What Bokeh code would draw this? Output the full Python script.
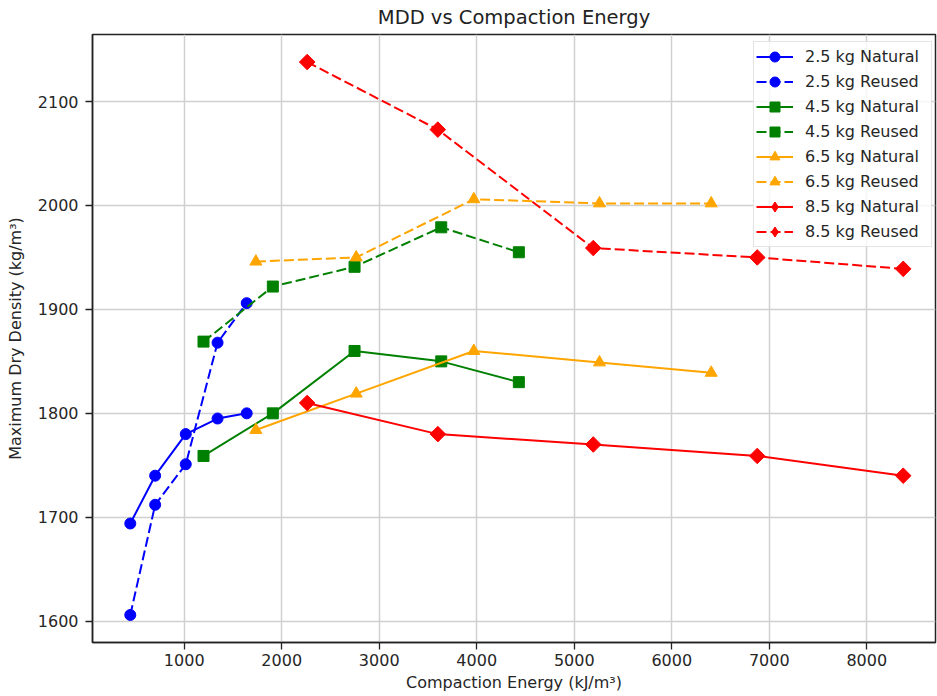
import math
from bokeh.plotting import figure
from bokeh.models import Range1d, SingleIntervalTicker, Legend, LegendItem
from bokeh.embed import file_html
from bokeh.resources import INLINE

# ---- data ----
x_25 = [447, 702, 1016, 1342, 1641]
mdd_25_natural = [1694, 1740, 1780, 1795, 1800]
mdd_25_reused = [1606, 1712, 1751, 1868, 1906]

x_45 = [1198, 1909, 2747, 3636, 4432]
mdd_45_natural = [1759, 1800, 1860, 1850, 1830]
mdd_45_reused = [1869, 1922, 1941, 1979, 1955]

x_65 = [1735, 2764, 3970, 5259, 6405]
mdd_65_natural = [1784, 1819, 1860, 1849, 1839]
mdd_65_reused = [1946, 1950, 2006, 2002, 2002]

x_85 = [2261, 3601, 5195, 6877, 8374]
mdd_85_natural = [1810, 1780, 1770, 1759, 1740]
mdd_85_reused = [2138, 2073, 1959, 1950, 1939]

labels = ["2.5 kg Natural", "2.5 kg Reused", "4.5 kg Natural", "4.5 kg Reused",
          "6.5 kg Natural", "6.5 kg Reused", "8.5 kg Natural", "8.5 kg Reused"]
title_text = "MDD vs Compaction Energy"

FONT = "DejaVu Sans"

p = figure(width=937, height=696, output_backend="svg", toolbar_location=None,
           x_range=Range1d(59.5, 8705), y_range=Range1d(1579.5, 2164.5),
           min_border_left=92, min_border_right=2, min_border_top=34, min_border_bottom=54,
           title=title_text)

p.title.text_font = FONT
p.title.text_font_size = "19.5px"
p.title.text_font_style = "normal"
p.title.text_color = "#222222"
p.title.align = "center"
p.title.vertical_align = "top"
p.title.standoff = 8

p.background_fill_color = "white"
p.border_fill_color = "white"
p.outline_line_color = "#222222"
p.outline_line_width = 1.5

for ax in (p.xaxis[0], p.yaxis[0]):
    ax.axis_line_color = "#222222"
    ax.axis_line_width = 1.5
    ax.major_tick_line_color = "#222222"
    ax.major_tick_line_width = 1.3
    ax.major_tick_out = 7
    ax.major_tick_in = 0
    ax.minor_tick_line_color = None
    ax.major_label_text_font = FONT
    ax.major_label_text_font_size = "16px"
    ax.major_label_text_color = "#262626"
    ax.axis_label_text_font = FONT
    ax.axis_label_text_font_size = "16px"
    ax.axis_label_text_font_style = "normal"
    ax.axis_label_text_color = "#262626"

p.xaxis.ticker = SingleIntervalTicker(interval=1000)
p.yaxis.ticker = SingleIntervalTicker(interval=100)
p.xaxis.axis_label = "Compaction Energy (kJ/m³)"
p.yaxis.axis_label = "Maximum Dry Density (kg/m³)"
p.xaxis.major_label_standoff = 4
p.xaxis.axis_label_standoff = 4
p.yaxis.major_label_standoff = 7
p.yaxis.axis_label_standoff = 10

p.grid.grid_line_color = "#d0d0d0"
p.grid.grid_line_width = 1.5

# (plot marker, plot angle, legend marker)
series = [
    (x_25, mdd_25_natural, "blue", ("circle", 0.0, "circle"), "solid", labels[0]),
    (x_25, mdd_25_reused, "blue", ("circle", 0.0, "circle"), "10 4", labels[1]),
    (x_45, mdd_45_natural, "green", ("square", 0.0, "square"), "solid", labels[2]),
    (x_45, mdd_45_reused, "green", ("square", 0.0, "square"), "10 4", labels[3]),
    (x_65, mdd_65_natural, "orange", ("triangle", 0.0, "triangle"), "solid", labels[4]),
    (x_65, mdd_65_reused, "orange", ("triangle", 0.0, "triangle"), "10 4", labels[5]),
    (x_85, mdd_85_natural, "red", ("square", math.pi / 4, "diamond"), "solid", labels[6]),
    (x_85, mdd_85_reused, "red", ("square", math.pi / 4, "diamond"), "10 4", labels[7]),
]

items = []
for xs, ys, color, (marker, angle, lmarker), dash, lab in series:
    ln = p.line(xs, ys, line_color=color, line_width=2, line_dash=dash)
    size = 11 if marker != "triangle" else 12
    if lmarker != marker:
        # diamond drawn underneath (hidden by the rotated square), used for the legend swatch
        lm = p.scatter(xs, ys, marker=lmarker, size=size, fill_color=color,
                       line_color=color, line_width=1)
        p.scatter(xs, ys, marker=marker, size=size, angle=angle, fill_color=color,
                  line_color=color, line_width=1)
    else:
        lm = p.scatter(xs, ys, marker=marker, size=size, angle=angle, fill_color=color,
                       line_color=color, line_width=1)
    items.append(LegendItem(label=lab, renderers=[ln, lm]))

lg = Legend(items=items)
lg.location = (661, 395)
lg.label_text_font = FONT
lg.label_text_font_size = "16px"
lg.label_text_color = "#262626"
lg.glyph_width = 37
lg.glyph_height = 25
lg.label_height = 25
lg.label_width = 124
lg.label_standoff = 12
lg.spacing = 0
lg.padding = 2
lg.margin = 0
lg.background_fill_color = "white"
lg.background_fill_alpha = 0.8
lg.border_line_color = "#cccccc"
lg.border_line_width = 1
p.add_layout(lg)

open("out.html", "w").write(file_html(p, INLINE))
